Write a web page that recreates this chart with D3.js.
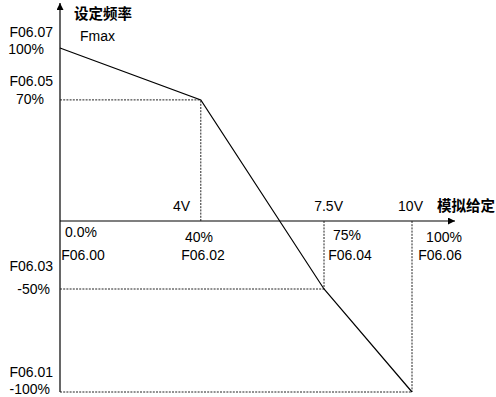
<!DOCTYPE html>
<html><head><meta charset="utf-8">
<script src="https://cdn.jsdelivr.net/npm/d3@7"></script>
<style>body{margin:0;background:#fff}svg{display:block}text{font-family:"Liberation Sans",Arial,sans-serif;font-size:14px;fill:#000}.cn{font-family:"Noto Sans CJK SC",sans-serif;font-weight:bold;font-size:14.5px}</style>
</head><body>
<script>
// Data
const inputPct = [0, 40, 75, 100];           // analog input (%)
const freqPct = [100, 70, -50, -100];        // set frequency (%)
const inputParams = ["F06.00", "F06.02", "F06.04", "F06.06"];
const freqParams = ["F06.07", "F06.05", "F06.03", "F06.01"];
const inputLabels = ["0.0%", "40%", "75%", "100%"];
const freqLabels = ["100%", "70%", "-50%", "-100%"];
const voltLabels = ["", "4V", "7.5V", "10V"];
const yTitle = "设定频率";
const xTitle = "模拟给定";
const maxLabel = "Fmax";

const W = 496, H = 397;
const svg = d3.select("body").append("svg").attr("width", W).attr("height", H);

const x = d3.scaleLinear().domain([0, 100]).range([60, 412]);
const y = d3.scaleLinear().domain([-100, -50, 0, 100]).range([392, 289, 221, 48]);

const defs = svg.append("defs");
defs.append("marker").attr("id", "arr").attr("viewBox", "0 0 10 10").attr("refX", 10).attr("refY", 5)
  .attr("markerWidth", 9).attr("markerHeight", 7).attr("markerUnits", "userSpaceOnUse").attr("orient", "auto")
  .append("path").attr("d", "M0,0L10,5L0,10Z").attr("fill", "#000");

// axes
svg.append("line").attr("x1", x(0)).attr("y1", y(-100)).attr("x2", x(0)).attr("y2", 3)
  .attr("stroke", "#000").attr("stroke-width", 1.2).attr("marker-end", "url(#arr)");
svg.append("line").attr("x1", x(0)).attr("y1", y(0)).attr("x2", 455).attr("y2", y(0))
  .attr("stroke", "#000").attr("stroke-width", 1.2).attr("marker-end", "url(#arr)");

// dashed guides
const dash = {stroke: "#222", "stroke-width": 1, "stroke-dasharray": "2,1.2"};
function dl(x1, y1, x2, y2) {
  const l = svg.append("line").attr("x1", x1).attr("y1", y1).attr("x2", x2).attr("y2", y2);
  Object.entries(dash).forEach(([k, v]) => l.attr(k, v));
}
for (let i = 1; i < inputPct.length; i++) {
  dl(x(0), y(freqPct[i]), x(inputPct[i]), y(freqPct[i]));
  dl(x(inputPct[i]), y(0), x(inputPct[i]), y(freqPct[i]));
}

// curve
const pts = inputPct.map((v, i) => [v, freqPct[i]]);
svg.append("path").attr("d", d3.line().x(d => x(d[0])).y(d => y(d[1]))(pts))
  .attr("fill", "none").attr("stroke", "#000").attr("stroke-width", 1.2);

// y labels
const yParamY = [32, 81, 266, 372];
const yValY = [49, 99, 289, 389];
freqParams.forEach((p, i) => {
  svg.append("text").attr("x", 53).attr("y", yParamY[i]).attr("dy", "0.35em").attr("text-anchor", "end").text(p);
  svg.append("text").attr("x", i >= 2 ? 50 : 44).attr("y", yValY[i]).attr("dy", "0.35em").attr("text-anchor", "end").text(freqLabels[i]);
});

// x labels
const xPctX = [81, 199, 347, 444];
const xPctY = [232, 237, 235, 237];
const xParX = [83, 203, 350, 440];
inputParams.forEach((p, i) => {
  svg.append("text").attr("x", xPctX[i]).attr("y", xPctY[i]).attr("dy", "0.35em").attr("text-anchor", "middle").text(inputLabels[i]);
  svg.append("text").attr("x", xParX[i]).attr("y", 255).attr("dy", "0.35em").attr("text-anchor", "middle").text(p);
});
const vX = [0, 190, 343, 423];
voltLabels.forEach((v, i) => {
  if (v) svg.append("text").attr("x", vX[i]).attr("y", 206).attr("dy", "0.35em").attr("text-anchor", "end").text(v);
});

svg.append("text").attr("x", 80).attr("y", 36).attr("dy", "0.35em").text(maxLabel);
svg.append("text").attr("class", "cn").attr("x", 74).attr("y", 13).attr("dy", "0.38em").text(yTitle);
svg.append("text").attr("class", "cn").attr("x", 437).attr("y", 205).attr("dy", "0.38em").text(xTitle);
</script>
</body></html>
